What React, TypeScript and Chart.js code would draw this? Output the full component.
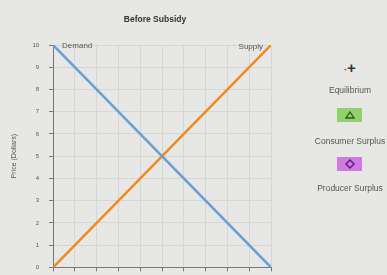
import React, { useEffect, useRef } from "react";
import { Chart, registerables } from "chart.js";

Chart.register(...registerables);

const titleText = "Before Subsidy";
const yAxisTitle = "Price (Dollars)";
const yTicks = [0, 1, 2, 3, 4, 5, 6, 7, 8, 9, 10];
const demandX = [0, 10];
const demandY = [10, 0];
const supplyX = [0, 10];
const supplyY = [0, 10];
const legendItems = ["Equilibrium", "Consumer Surplus", "Producer Surplus"];

const lineLabels = {
  id: "lineLabels",
  afterDatasetsDraw(chart: any) {
    const { ctx, scales } = chart;
    const x = scales.x, y = scales.y;
    ctx.save();
    ctx.font = "8px 'Liberation Sans', Arial, sans-serif";
    ctx.fillStyle = "#555";
    ctx.textBaseline = "bottom";
    ctx.textAlign = "left";
    ctx.fillText("Demand", x.getPixelForValue(demandX[0]) + 9, y.getPixelForValue(demandY[0]) + 5);
    ctx.textAlign = "right";
    ctx.fillText("Supply", x.getPixelForValue(supplyX[1]) - 8, y.getPixelForValue(supplyY[1]) + 6);
    ctx.restore();
  },
};

export default function App() {
  const ref = useRef<HTMLCanvasElement>(null);
  useEffect(() => {
    const chart = new Chart(ref.current!, {
      type: "line",
      data: {
        datasets: [
          {
            label: "Demand",
            data: demandX.map((v, i) => ({ x: v, y: demandY[i] })),
            borderColor: "#6a9fd2",
            borderWidth: 2.5,
            pointRadius: 0,
          },
          {
            label: "Supply",
            data: supplyX.map((v, i) => ({ x: v, y: supplyY[i] })),
            borderColor: "#f08a1e",
            borderWidth: 2.5,
            pointRadius: 0,
          },
        ],
      },
      options: {
        responsive: false,
        animation: false,
        layout: { padding: { top: 45, right: 39, bottom: 0, left: 10 } },
        plugins: {
          legend: { display: false },
          tooltip: { enabled: false },
          title: { display: false },
        },
        scales: {
          x: {
            type: "linear",
            min: 0,
            max: 10,
            ticks: { stepSize: 1, display: false },
            grid: { color: "#d6d6d4", tickLength: 4, tickColor: "#777" },
            border: { color: "#777" },
          },
          y: {
            type: "linear",
            min: 0,
            max: 10,
            afterBuildTicks: (s: any) => {
              s.ticks = yTicks.map((v) => ({ value: v }));
            },
            ticks: {
              color: "#555",
              font: { size: 6, family: "'Liberation Sans', Arial, sans-serif" },
              padding: 10,
            },
            grid: { color: "#d6d6d4", tickLength: 4, tickColor: "#777" },
            border: { color: "#777" },
            title: {
              display: true,
              text: yAxisTitle,
              color: "#555",
              font: { size: 7, family: "'Liberation Sans', Arial, sans-serif" },
              padding: { top: 0, bottom: 4 },
            },
          },
        },
      },
      plugins: [lineLabels],
    });
    return () => chart.destroy();
  }, []);

  const font = "'Liberation Sans', Arial, sans-serif";
  const textStyle: React.CSSProperties = {
    position: "absolute",
    left: 300,
    width: 100,
    textAlign: "center",
    fontSize: 8.5,
    color: "#555",
    fontFamily: font,
  };
  return (
    <div style={{ position: "fixed", left: 0, top: 0, width: 387, height: 275, background: "#e7e7e5", overflow: "hidden" }}>
      <canvas ref={ref} width={310} height={281} style={{ position: "absolute", left: 0, top: 0 }} />
      <div style={{ position: "absolute", left: 105, top: 14, width: 100, textAlign: "center", fontFamily: font, fontSize: 8.5, fontWeight: "bold", color: "#333" }}>
        {titleText}
      </div>
      <div style={{ position: "absolute", left: 344, top: 60, width: 24, height: 16, fontFamily: font, color: "#333", fontSize: 15, fontWeight: "bold", lineHeight: "16px" }}>
        <span style={{ fontSize: 9 }}>·</span>+
      </div>
      <div style={{ ...textStyle, top: 85 }}>{legendItems[0]}</div>
      <div style={{ position: "absolute", left: 337, top: 108, width: 25, height: 14, background: "#8fd36a", display: "flex", alignItems: "center", justifyContent: "center" }}>
        <svg width="10" height="8"><polygon points="5,1 9,7 1,7" fill="none" stroke="#2f5a1a" strokeWidth="1.3" /></svg>
      </div>
      <div style={{ ...textStyle, top: 136 }}>{legendItems[1]}</div>
      <div style={{ position: "absolute", left: 337, top: 157, width: 25, height: 14, background: "#cf7be0", display: "flex", alignItems: "center", justifyContent: "center" }}>
        <svg width="10" height="10"><polygon points="5,1 9,5 5,9 1,5" fill="none" stroke="#5a1a80" strokeWidth="1.4" /></svg>
      </div>
      <div style={{ ...textStyle, top: 183 }}>{legendItems[2]}</div>
    </div>
  );
}
